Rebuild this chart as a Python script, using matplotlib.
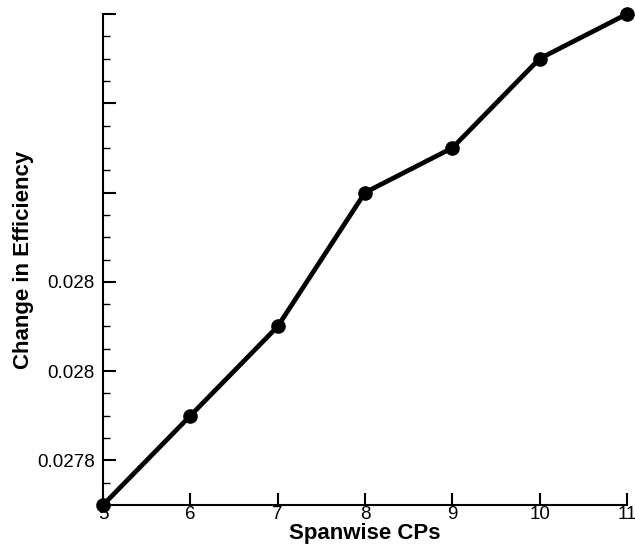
import matplotlib
matplotlib.use("Agg")
import matplotlib.pyplot as plt
import matplotlib.ticker as mticker

plt.rcParams["font.family"] = ["Liberation Sans", "DejaVu Sans"]

cps = [5, 6, 7, 8, 9, 10, 11]
efficiency = [0.02775, 0.02785, 0.02795, 0.0281, 0.02815, 0.02825, 0.0283]
ytick_vals = [0.0278, 0.0279, 0.0280, 0.0281, 0.0282, 0.0283]
ytick_labels = ["0.0278", "0.028", "0.028", "", "", ""]

fig = plt.figure(figsize=(6.35, 5.54), dpi=100)
ax = fig.add_axes([0.1622, 0.0884, 0.8252, 0.8863])

ax.plot(cps, efficiency, color="black", linewidth=3.4, marker="o",
        markersize=9.5, clip_on=False, zorder=3)

ax.set_xlim(5, 11)
ax.set_ylim(0.02775, 0.0283)

ax.spines["top"].set_visible(False)
ax.spines["right"].set_visible(False)
ax.spines["left"].set_linewidth(1.5)
ax.spines["bottom"].set_linewidth(1.5)

ax.set_xticks(cps)
ax.set_yticks(ytick_vals)
ax.yaxis.set_major_formatter(mticker.FixedFormatter(ytick_labels))
ax.yaxis.set_minor_locator(mticker.MultipleLocator(0.000025))

ax.tick_params(axis="both", which="major", direction="in", length=9, width=1.5,
               labelsize=13.5)
ax.tick_params(axis="y", which="major", pad=6)
ax.tick_params(axis="x", which="major", pad=1)
ax.tick_params(axis="y", which="minor", direction="in", length=5, width=1)

ax.set_xlabel("Spanwise CPs", fontsize=16, fontweight="bold", labelpad=0)
ax.set_ylabel("Change in Efficiency", fontsize=16, fontweight="bold", labelpad=2)

plt.savefig("out.png", dpi=100)
